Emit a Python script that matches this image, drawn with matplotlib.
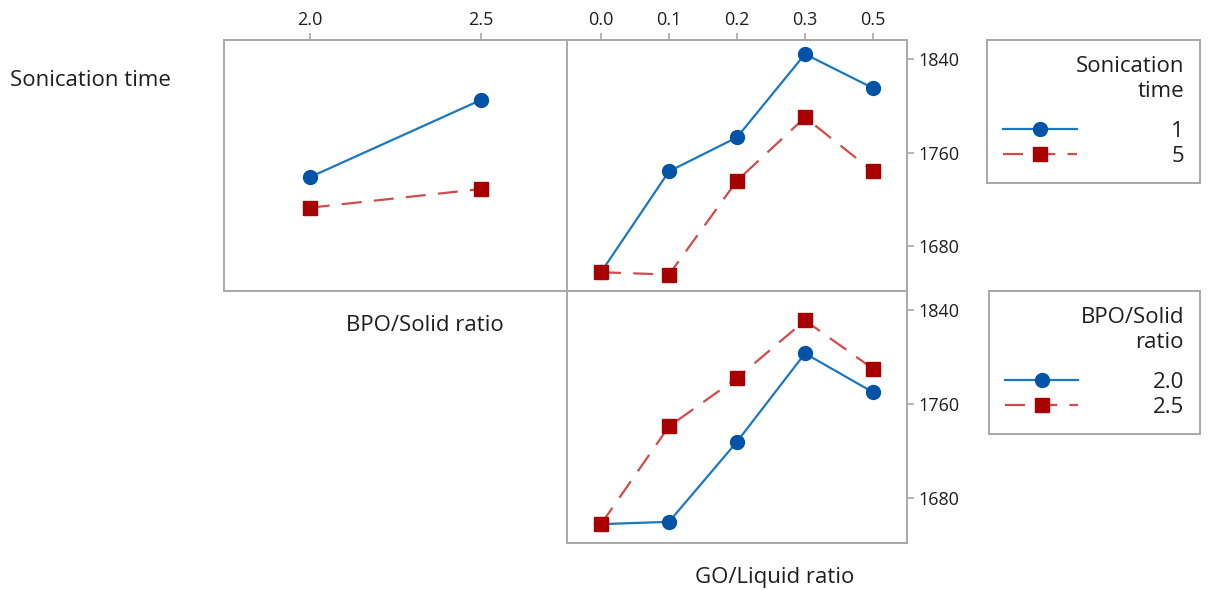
import matplotlib
matplotlib.use("Agg")
import matplotlib.pyplot as plt
from matplotlib.lines import Line2D

plt.rcParams['font.family'] = ['Open Sans', 'DejaVu Sans']

# data
bpo_levels = ['2.0', '2.5']
go_levels = ['0.0', '0.1', '0.2', '0.3', '0.5']
son_levels = ['1', '5']

son_vs_bpo = {'1': [1739, 1805], '5': [1713, 1729]}
son_vs_go = {'1': [1658, 1744, 1773, 1844, 1815],
             '5': [1658, 1656, 1736, 1790, 1744]}
bpo_vs_go = {'2.0': [1658, 1660, 1728, 1803, 1770],
             '2.5': [1658, 1741, 1782, 1831, 1790]}

y_ticks = [1680, 1760, 1840]
y_lim = (1642, 1856)

spine_col = '#a8a8a8'
text_col = '#1e1e1e'
blue_line, blue_mk = '#1a78c2', '#0053a6'
red_line, red_mk = '#d24b4b', '#a80000'
styles = [
    dict(color=blue_line, lw=1.6, ls='-', marker='o', ms=10,
         mfc=blue_mk, mec=blue_mk),
    dict(color=red_line, lw=1.6, ls=(0, (9, 5.5)), marker='s', ms=9.5,
         mfc=red_mk, mec=red_mk),
]

W, H = 1208, 590
fig = plt.figure(figsize=(W / 100, H / 100), dpi=100)


def px_axes(x0, y0, x1, y1):
    return fig.add_axes([x0 / W, 1 - y1 / H, (x1 - x0) / W, (y1 - y0) / H])


ax_tl = px_axes(224, 40, 567, 291)
ax_tr = px_axes(567, 40, 907, 291)
ax_br = px_axes(567, 291, 907, 543)


def style_axis(ax, n, xlabels=None, right=False):
    ax.set_xlim(-0.5, n - 0.5)
    ax.set_ylim(*y_lim)
    for s in ax.spines.values():
        s.set_color(spine_col)
        s.set_linewidth(1.4)
    if xlabels is not None:
        ax.set_xticks(range(n))
        ax.set_xticklabels(xlabels)
        ax.xaxis.tick_top()
    else:
        ax.set_xticks([])
    if right:
        ax.set_yticks(y_ticks)
        ax.yaxis.tick_right()
    else:
        ax.set_yticks([])
    ax.tick_params(colors=spine_col, labelcolor=text_col, labelsize=13,
                   length=5, width=1.2, direction='out', pad=3)


for i, key in enumerate(son_levels):
    ax_tl.plot(range(len(bpo_levels)), son_vs_bpo[key], **styles[i])
    ax_tr.plot(range(len(go_levels)), son_vs_go[key], **styles[i])
for i, key in enumerate(bpo_levels):
    ax_br.plot(range(len(go_levels)), bpo_vs_go[key], **styles[i])

style_axis(ax_tl, len(bpo_levels), bpo_levels)
style_axis(ax_tr, len(go_levels), go_levels, right=True)
style_axis(ax_br, len(go_levels), None, right=True)

fig.text(10 / W, 1 - 80 / H, 'Sonication time', ha='left', va='center',
         fontsize=16, color=text_col)
fig.text(425 / W, 1 - 326 / H, 'BPO/Solid ratio', ha='center', va='center',
         fontsize=16, color=text_col)
fig.text(775 / W, 1 - 578 / H, 'GO/Liquid ratio', ha='center', va='center',
         fontsize=16, color=text_col)


def make_legend(title, labels, top, pad):
    handles = [Line2D([], [], **styles[i]) for i in range(len(labels))]
    leg = fig.legend(handles, labels, title=title, loc='upper right',
                     bbox_to_anchor=(1200 / W, 1 - top / H),
                     borderaxespad=0, fontsize=16, title_fontsize=16,
                     alignment='right', handlelength=3.3, handletextpad=pad,
                     labelspacing=0.2, borderpad=0.72, fancybox=False,
                     edgecolor=spine_col, framealpha=1, labelcolor=text_col)
    leg.get_title().set_multialignment('right')
    leg.get_title().set_linespacing(1.28)
    leg.get_title().set_color(text_col)
    leg.get_frame().set_linewidth(1.4)
    # a little more room between the title and the entries
    leg._legend_box.sep = 13
    fig.add_artist(leg)
    return leg


make_legend('Sonication\ntime', son_levels, 40, 4.25)
make_legend('BPO/Solid\nratio', bpo_levels, 291, 3.35)

fig.savefig('out.png', dpi=100)
